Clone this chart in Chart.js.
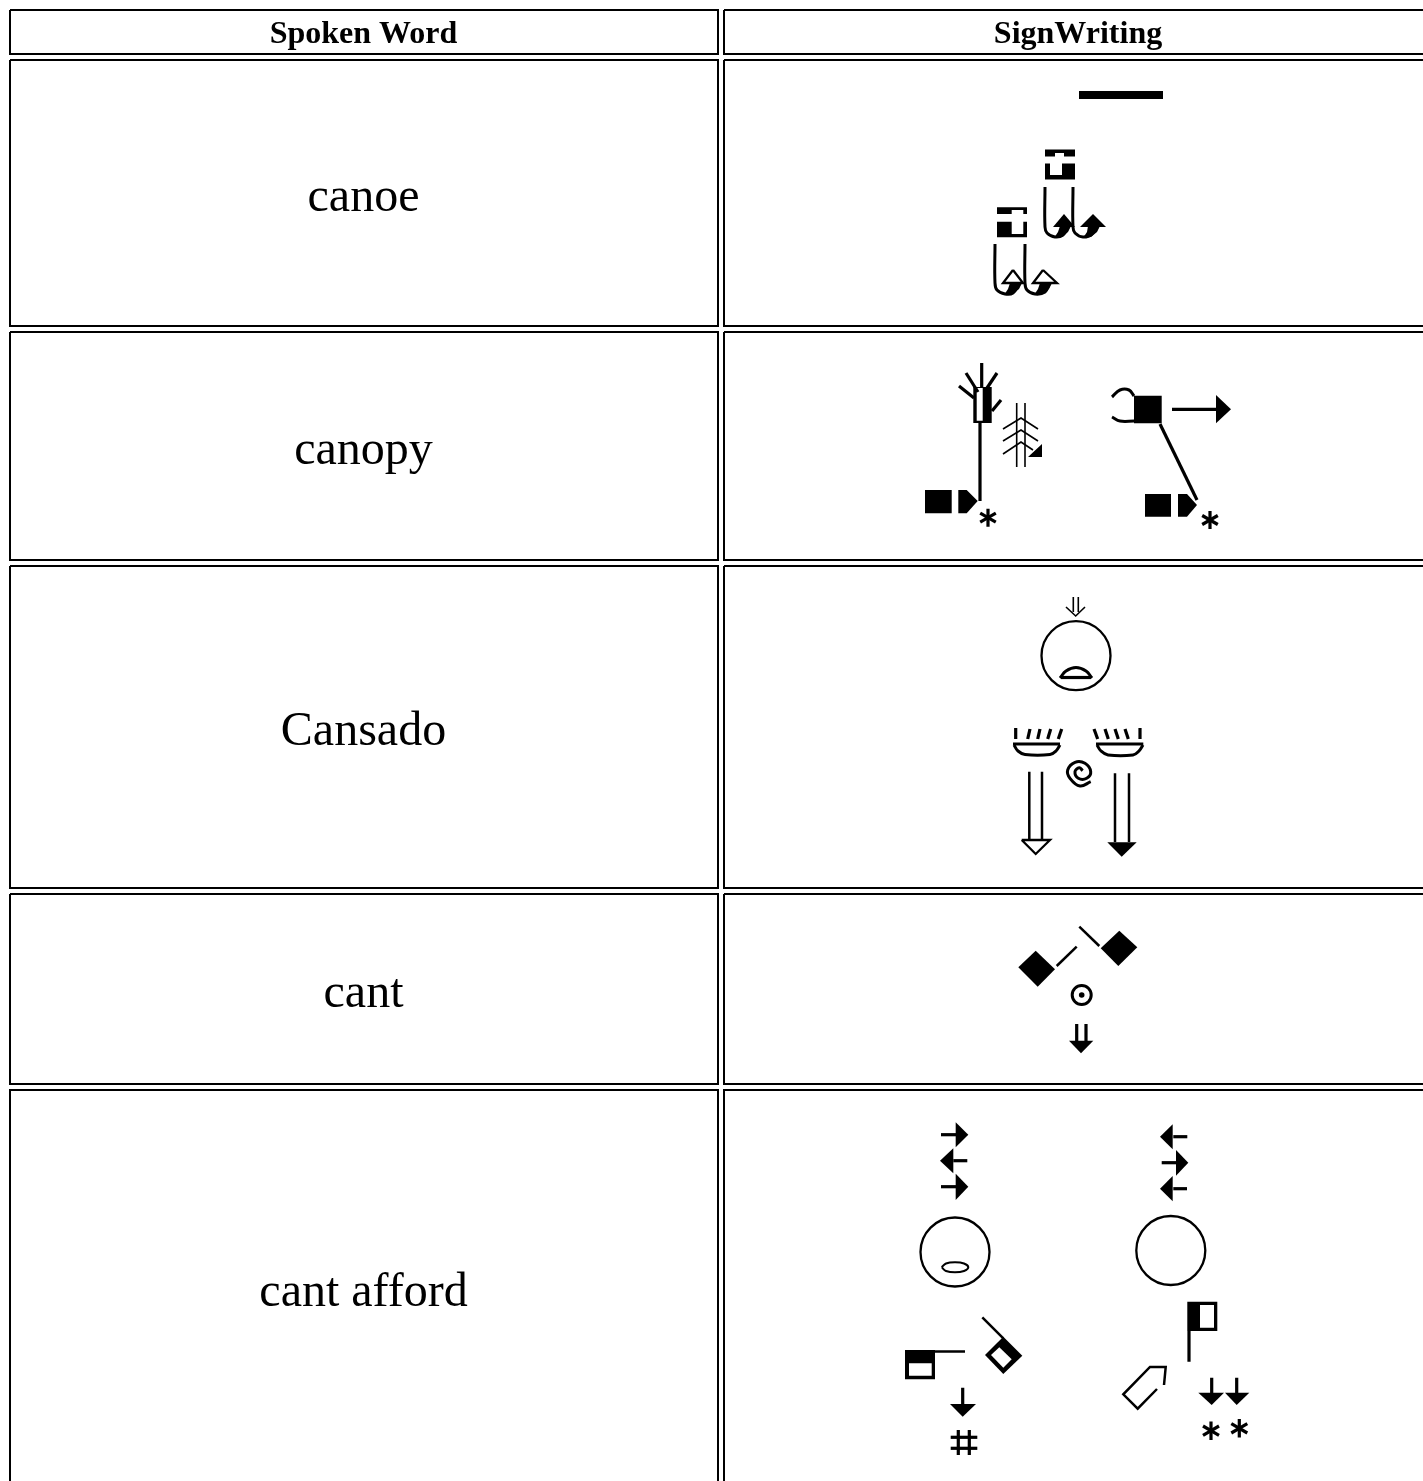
<!DOCTYPE html>
<html>
<head>
<meta charset="utf-8">
<title>SignWriting dictionary table</title>
<script src="https://cdn.jsdelivr.net/npm/chart.js@4"></script>
<style>html,body{margin:0;padding:0;background:#fff;overflow:hidden}canvas{display:block}</style>
</head>
<body>
<canvas id="c" width="1423" height="1481"></canvas>
<script>
const headers = ["Spoken Word", "SignWriting"];
const words = ["canoe", "canopy", "Cansado", "cant", "cant afford"];
const headerCentres = [363.5, 1078];
const wordCentre = 363.5;
const headerBaseline = 43;
const wordBaselines = [211, 464, 745, 1007, 1306];

const tableCells = [
  [[10,10],[718,10],[718,54],[10,54],[10,10]],
  [[724,10],[1430,10],[1430,54],[724,54],[724,10]],
  [[10,60],[718,60],[718,326],[10,326],[10,60]],
  [[724,60],[1430,60],[1430,326],[724,326],[724,60]],
  [[10,332],[718,332],[718,560],[10,560],[10,332]],
  [[724,332],[1430,332],[1430,560],[724,560],[724,332]],
  [[10,566],[718,566],[718,888],[10,888],[10,566]],
  [[724,566],[1430,566],[1430,888],[724,888],[724,566]],
  [[10,894],[718,894],[718,1084],[10,1084],[10,894]],
  [[724,894],[1430,894],[1430,1084],[724,1084],[724,894]],
  [[10,1490],[10,1090],[718,1090],[718,1490]],
  [[1430,1090],[724,1090],[724,1490]]
];

const solidShapes = [
  [[1079,91],[1163,91],[1163,99],[1079,99]],
  [[1045,149.5],[1075,149.5],[1075,156.5],[1045,156.5]],
  [[1045,163.5],[1075,163.5],[1075,179.5],[1045,179.5]],
  [[997,207.3],[1027,207.3],[1027,214],[997,214]],
  [[997,221.7],[1027,221.7],[1027,237.3],[997,237.3]],
  [[1064,214],[1053,227],[1075,227]],
  [[1093,214],[1080,227],[1106,227]],
  [[1054,238],[1062,237],[1068,232],[1071,226],[1060,226],[1058,232]],
  [[1083,238],[1091,237],[1097,232],[1100,226],[1088,226],[1087,232]],
  [[1004,295],[1013,294],[1019,289],[1022,283],[1010,283],[1008,289]],
  [[1034,295],[1043,294],[1049,289],[1052,283],[1040,283],[1038,289]],
  [[973.3,387],[991.7,387],[991.7,423],[973.3,423]],
  [[925,490],[951.7,490],[951.7,513.3],[925,513.3]],
  [[958.3,490],[966.7,490],[977.7,501],[966.7,513.3],[958.3,513.3]],
  [[1042,444],[1042,457],[1028,457]],
  [[1134,395.7],[1161.7,395.7],[1161.7,423.3],[1134,423.3]],
  [[1216,395],[1231,409.3],[1216,423.3]],
  [[1145,494],[1171,494],[1171,516.7],[1145,516.7]],
  [[1178,494],[1187,494],[1197,505],[1187,516.7],[1178,516.7]],
  [[1107.3,842.3],[1136.7,842.3],[1121.7,856.7]],
  [[1018.3,967.3],[1035.7,950.7],[1055,969.3],[1037.7,986.7]],
  [[1100.7,948.3],[1119.3,930.7],[1137.3,947.3],[1118.3,966]],
  [[1069,1040.7],[1093.3,1040.7],[1081,1053.3]],
  [[955.7,1122.3],[968.3,1134.7],[955.7,1147.3]],
  [[953.3,1148.3],[940,1160.7],[953.3,1173.3]],
  [[955.7,1173.7],[968.3,1186.7],[955.7,1200]],
  [[905,1350],[935,1350],[935,1379.3],[905,1379.3]],
  [[985,1355],[1003.3,1336.7],[1022.3,1355.7],[1003.3,1374]],
  [[950,1404],[976,1404],[962.7,1416.7]],
  [[1172.7,1124.3],[1160,1136.7],[1172.7,1149.3]],
  [[1176,1150],[1188.3,1162.7],[1176,1175.7]],
  [[1172.7,1176],[1160,1188.7],[1172.7,1201.3]],
  [[1187.3,1301.7],[1217.3,1301.7],[1217.3,1331],[1187.3,1331]],
  [[1198.3,1392.7],[1224,1392.7],[1211.7,1405]],
  [[1225,1392.7],[1249.3,1392.7],[1236.7,1405]]
];

const whiteShapes = [
  [[1055,153],[1064,153],[1064,157],[1055,157]],
  [[1050,163],[1062,163],[1062,175],[1050,175]],
  [[1011.7,210],[1023.3,210],[1023.3,214.5],[1011.7,214.5]],
  [[1011.7,221],[1023.3,221],[1023.3,234],[1011.7,234]],
  [[976.7,388],[982.7,388],[982.7,420.7],[976.7,420.7]],
  [[909,1363.3],[931.7,1363.3],[931.7,1375.7],[909,1375.7]],
  [[991,1355],[999.3,1347.3],[1011.7,1359.3],[1003.3,1367.7]],
  [[1200,1305],[1214,1305],[1214,1327.7],[1200,1327.7]]
];

const outlinedShapes = [
  [[1013,270],[1003,283],[1023,283],[1013,270]],
  [[1043,270],[1033,283],[1057,283],[1043,270]],
  [[1021.7,840],[1050,840],[1035.7,854],[1021.7,840]]
];

const thinStrokes = [
  [[1016.7,403],[1016.7,467]],
  [[1025,403],[1025,467]],
  [[1003,429],[1021,418],[1038,429]],
  [[1003,441],[1021,430],[1038,441]],
  [[1003,454],[1021,442],[1033,450]],
  [[1073.3,597],[1073.3,612]],
  [[1078.3,597],[1078.3,612]],
  [[1066,607],[1075.7,616],[1085,607]]
];

const mediumStrokes = [
  [[1029.3,771.7],[1029.3,840]],
  [[1042,771.7],[1042,840]],
  [[1115,773.3],[1115,842]],
  [[1129,773.3],[1129,842]],
  [[1056.7,966],[1076.7,946.7]],
  [[1079.3,926.7],[1099.3,946]],
  [[982.3,1317.3],[1003.3,1338.3]],
  [[935,1351.5],[965,1351.5]],
  [[1164,1385],[1165.7,1367],[1150,1367],[1123.3,1394.3],[1137.7,1408.7],[1157,1389]]
];

const heavyStrokes = [
  [[981.7,363],[981.7,387]],
  [[966,373],[978,392]],
  [[959,386],[974,398]],
  [[997,373],[987,388]],
  [[1001,400],[992,411]],
  [[980,423],[980,501]],
  [[1172,409.3],[1217,409.3]],
  [[1160,424],[1197,500]],
  [[988,508.7],[988,526.7]],
  [[980.2,513.2],[995.8,522.2]],
  [[980.2,522.2],[995.8,513.2]],
  [[1210,511],[1210,529]],
  [[1202.2,515.5],[1217.8,524.5]],
  [[1202.2,524.5],[1217.8,515.5]],
  [[1211,1421.5],[1211,1439.9]],
  [[1203,1426],[1219,1435.4]],
  [[1203,1435.4],[1219,1426]],
  [[1239.3,1419],[1239.3,1437.6]],
  [[1231.3,1423.6],[1247.3,1433]],
  [[1231.3,1433],[1247.3,1423.6]],
  [[1015.7,728],[1015.7,739]],
  [[1030,729],[1027.7,739]],
  [[1040,729],[1037.7,739]],
  [[1050.7,729],[1047.7,739]],
  [[1061.7,729],[1058.3,739]],
  [[1094,729],[1097.7,739]],
  [[1105,729],[1108.3,739]],
  [[1115,729],[1118.3,739]],
  [[1125,729],[1128.3,739]],
  [[1140,728],[1140,739]],
  [[1061,677.5],[1091,677.5]],
  [[1013,744],[1060,744]],
  [[1096,744],[1143.3,744]],
  [[1076.7,1024],[1076.7,1042]],
  [[1086,1024],[1086,1042]],
  [[941,1134.7],[957,1134.7]],
  [[953.3,1160.7],[967.3,1160.7]],
  [[941,1186.7],[957,1186.7]],
  [[962.7,1387.7],[962.7,1407]],
  [[958.3,1430],[958.3,1455]],
  [[969.3,1430],[969.3,1455]],
  [[950.7,1437.3],[977.3,1437.3]],
  [[950.7,1448.3],[977.3,1448.3]],
  [[1173.3,1136.7],[1187.3,1136.7]],
  [[1161.7,1162.7],[1176.7,1162.7]],
  [[1173.3,1188.7],[1187,1188.7]],
  [[1189,1331],[1189,1361.7]],
  [[1211.7,1377.7],[1211.7,1397]],
  [[1236.7,1377.7],[1236.7,1397]]
];

const curvedStrokes = [
  [[1045,187],[1045,227],[1047,233],[1055,237],[1063,235],[1068,227]],
  [[1073,187],[1073,227],[1075,233],[1083,237],[1092,234],[1095,227]],
  [[995,244],[995,283],[997,290],[1005,294],[1013,293],[1019,284]],
  [[1025,244],[1025,283],[1027,290],[1035,294],[1045,292],[1049,284]],
  [[1134,396],[1129,390],[1120,390],[1112,397]],
  [[1134,421],[1120,421],[1112,417]],
  [[1060,678],[1066,671],[1076,667.5],[1086,671],[1092,678]],
  [[1014,745],[1018,751],[1025,754.5],[1050,754.5],[1056,751],[1060,745]],
  [[1097,745],[1101,751],[1108,755],[1133,755],[1139,751],[1143,745]],
  [[1090.7,781.7],[1080,786],[1070,778.3],[1067.7,770],[1075,762.3],[1085,763.3],[1090.7,771.7],[1086.7,778.3],[1078.3,778.3],[1075,771.7],[1079.3,767.7],[1082.7,770.7]]
];

const ellipseOutline = [[941.7,1267.3],[946,1263.5],[955,1262.3],[964,1263.5],[968.3,1267.3],[964,1271],[955,1272.3],[946,1271],[941.7,1267.3]];

const faceCircles = [[1076,655.7],[955,1252],[1170.8,1250.5]];
const targetRing = [[1081.7,995]];
const targetDot = [[1081.7,995]];

const toPoints = line => line.map(p => ({x: p[0], y: p[1]}));
const lineSet = (line, extra) => Object.assign({
  data: toPoints(line), showLine: true, pointRadius: 0, borderColor: '#000',
  borderCapStyle: 'butt', borderJoinStyle: 'miter', fill: false, clip: false
}, extra);

const layers = [];
solidShapes.forEach(s => layers.push(lineSet(s, {borderWidth: 0, backgroundColor: '#000', fill: 'shape'})));
whiteShapes.forEach(s => layers.push(lineSet(s, {borderWidth: 0, backgroundColor: '#fff', fill: 'shape'})));
tableCells.forEach(s => layers.push(lineSet(s, {borderWidth: 2})));
curvedStrokes.forEach(s => layers.push(lineSet(s, {borderWidth: 3, tension: 0.4})));
layers.push(lineSet(ellipseOutline, {borderWidth: 2, tension: 0.4}));
thinStrokes.forEach(s => layers.push(lineSet(s, {borderWidth: 1.6})));
mediumStrokes.forEach(s => layers.push(lineSet(s, {borderWidth: 2.5})));
heavyStrokes.forEach(s => layers.push(lineSet(s, {borderWidth: 3.2})));
outlinedShapes.forEach(s => layers.push(lineSet(s, {borderWidth: 2.3, backgroundColor: '#fff', fill: 'shape'})));
const ringSet = (pts, radius, width, bg) => ({
  data: toPoints(pts), showLine: false, pointStyle: 'circle', pointRadius: radius,
  pointBorderWidth: width, pointBorderColor: '#000', pointBackgroundColor: bg, clip: false
});
layers.push(ringSet(faceCircles, 34.5, 2.3, 'rgba(0,0,0,0)'));
layers.push(ringSet(targetRing, 9.5, 3, 'rgba(0,0,0,0)'));
layers.push(ringSet(targetDot, 2.8, 0, '#000'));
layers.forEach((d, i) => { d.order = -i; });

const tableText = {
  id: 'tableText',
  afterDatasetsDraw(chart) {
    const {ctx, scales: {x, y}} = chart;
    ctx.save();
    ctx.fillStyle = '#000';
    ctx.textAlign = 'center';
    ctx.textBaseline = 'alphabetic';
    ctx.font = 'bold 32px "Liberation Serif"';
    headers.forEach((t, i) => ctx.fillText(t, x.getPixelForValue(headerCentres[i]), y.getPixelForValue(headerBaseline)));
    ctx.font = '48px "Liberation Serif"';
    words.forEach((t, i) => ctx.fillText(t, x.getPixelForValue(wordCentre), y.getPixelForValue(wordBaselines[i])));
    ctx.restore();
  }
};

new Chart(document.getElementById('c'), {
  type: 'scatter',
  data: {datasets: layers},
  plugins: [tableText],
  options: {
    responsive: false,
    animation: false,
    layout: {padding: 0, autoPadding: false},
    plugins: {legend: {display: false}, tooltip: {enabled: false}, title: {display: false}},
    scales: {
      x: {type: 'linear', display: false, min: 0, max: 1423},
      y: {type: 'linear', display: false, min: 0, max: 1481, reverse: true}
    }
  }
});
</script>
</body>
</html>
